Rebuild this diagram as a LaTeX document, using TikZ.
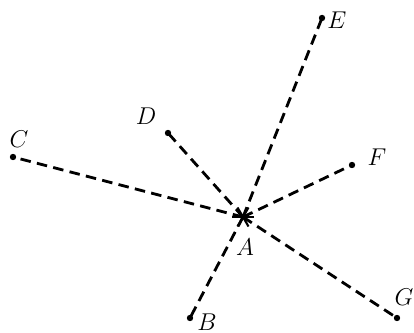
\documentclass[tikz,border=0pt]{standalone}
\usetikzlibrary{positioning}

\begin{document}
\begin{tikzpicture}[x=0.025cm, y=-0.025cm,
    ray/.style={line width=2pt, dash pattern=on 7.5pt off 4.5pt},
    pt/.style={circle, fill=black, inner sep=0pt, minimum size=0.16cm},
    lbl/.style={font=\LARGE, inner sep=0pt}]
  \useasboundingbox (0,0) rectangle (414,333);
  % centre and end points
  \coordinate (A) at (243,217);
  \node[pt] (B) at (190,318) {};
  \node[pt] (C) at (13,157) {};
  \node[pt] (D) at (168,133) {};
  \node[pt] (E) at (322,18) {};
  \node[pt] (F) at (352,165) {};
  \node[pt] (G) at (397,318) {};
  \foreach \p in {B,C,D,E,F,G} { \draw[ray] (A) -- (\p.center); }
  % star at A
  \foreach \a in {0,60,120} { \draw[line width=1.5pt] (A) ++(\a:11) -- ++(\a+180:22); }
  % labels
  \node[lbl] (lA) at (245,247) {$A$};
  \node[lbl] (lB) at (207,322) {$B$};
  \node[lbl] (lC) at (19,139) {$C$};
  \node[lbl] (lD) at (146,116) {$D$};
  \node[lbl] (lE) at (337,20) {$E$};
  \node[lbl] (lF) at (377,157) {$F$};
  \node[lbl] (lG) at (404,297) {$G$};
\end{tikzpicture}
\end{document}
